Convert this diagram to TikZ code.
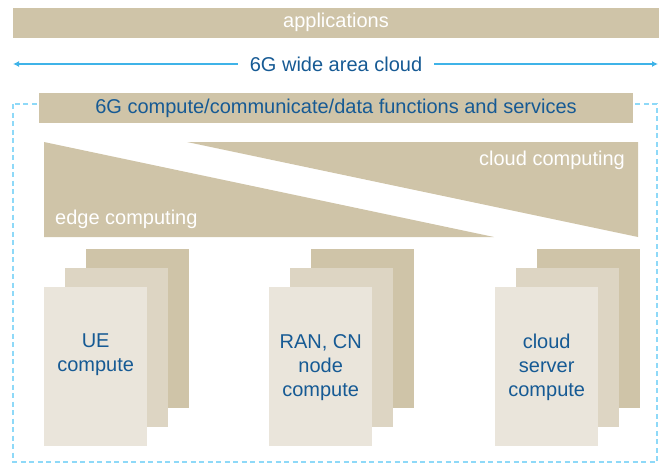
\documentclass[tikz,border=0pt]{standalone}
\usepackage{fontspec}
\setmainfont{Liberation Sans}
\usetikzlibrary{arrows.meta,positioning}
\definecolor{tanDark}{HTML}{CFC4A8}
\definecolor{tanMid}{HTML}{DDD5C3}
\definecolor{tanLight}{HTML}{EAE5DB}
\definecolor{textBlue}{HTML}{165A94}
\definecolor{arrowBlue}{HTML}{3FB3E8}
\definecolor{dashBlue}{HTML}{8ED9F8}

\begin{document}
\begin{tikzpicture}[x=1pt,y=-1pt,
		every node/.style={font=\fontsize{20}{24}\selectfont},
		bar/.style={fill=tanDark, inner sep=0pt, minimum height=30pt},
		sheet/.style={anchor=north west, minimum width=103pt, minimum height=159pt, inner sep=0pt},
		wan/.style={draw=arrowBlue, line width=1.6pt, -{Latex[length=6pt,width=6pt]}}]
		\useasboundingbox (0,0) rectangle (659,464);

		% Dashed frame of the wide area cloud
		\draw[dashBlue, line width=1.3pt, dash pattern=on 5pt off 3.5pt] (13,104) rectangle (657,462);

		% Top bars
		\node[bar, minimum width=646pt, text=white] (apps) at (336,22.5) {applications};
		\node[text=textBlue, inner xsep=12pt] (cloud) at (336,64) {6G wide area cloud};
		\coordinate (cloudL) at (13,64);
		\coordinate (cloudR) at (658,64);
		\draw[wan] (cloud.west) -- (cloudL);
		\draw[wan] (cloud.east) -- (cloudR);
		\node[bar, minimum width=594pt, text=textBlue] (svc) at (336,108) {6G compute/communicate/data functions and services};

		% Edge and cloud computing wedges
		\fill[tanDark] (44,142) -- (44,237) -- (494,237) -- cycle;
		\fill[tanDark] (187,142) -- (638,142) -- (638,237) -- cycle;
		\node[text=white, anchor=base west, inner sep=0pt] (edge) at (55,224.5) {edge computing};
		\node[text=white, anchor=base east, inner sep=0pt] (cc) at (625,165.5) {cloud computing};

		% Stacks of compute sheets
		\foreach \x/\name/\txt in {44/ue/{UE\\compute}, 269/ran/{RAN, CN\\node\\compute}, 495/cld/{cloud\\server\\compute}} {
			\node[sheet, fill=tanDark] (\name-back) at (\x+42,249) {};
			\node[sheet, fill=tanMid] (\name-mid) at (\x+21,268) {};
			\node[sheet, fill=tanLight] (\name-front) at (\x,287) {};
			\node[below=47pt of \name-front.north, inner sep=0pt, align=center, text=textBlue] (\name-text) {\txt};
		}
	\end{tikzpicture}
\end{document}
